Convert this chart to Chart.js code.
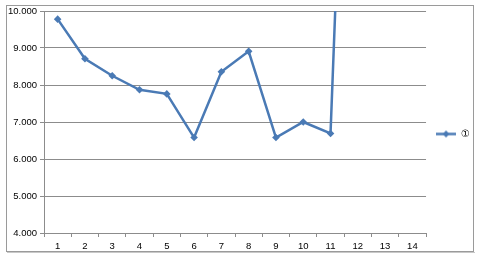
<!DOCTYPE html>
<html>
<head>
<meta charset="utf-8">
<script src="https://cdn.jsdelivr.net/npm/chart.js@4/dist/chart.umd.min.js"></script>
<style>
  html, body { margin: 0; padding: 0; background: #fff; }
  #wrap { width: 480px; height: 257px; }
</style>
</head>
<body>
<div id="wrap"><canvas id="plots" width="480" height="257"></canvas></div>
<script>
// chart values
var categories = ['1', '2', '3', '4', '5', '6', '7', '8', '9', '10', '11', '12', '13', '14'];
var seriesName = '①';
var seriesValues = [9.78, 8.71, 8.25, 7.87, 7.76, 6.58, 8.36, 8.91, 6.58, 7.0, 6.69, 26];
var yTicks = [4, 5, 6, 7, 8, 9, 10];

var blue = '#4a7ab5';
var grid = '#8c8c8c';
var font = { family: 'Liberation Sans', size: 9.5 };

// legend symbol: short line with a diamond in the middle
var sym = document.createElement('canvas');
sym.width = 20; sym.height = 9;
var sc = sym.getContext('2d');
sc.strokeStyle = blue; sc.lineWidth = 2.5;
sc.beginPath(); sc.moveTo(0, 4.5); sc.lineTo(20, 4.5); sc.stroke();
sc.fillStyle = blue;
sc.beginPath(); sc.moveTo(10, 1); sc.lineTo(13.5, 4.5); sc.lineTo(10, 8); sc.lineTo(6.5, 4.5); sc.closePath(); sc.fill();

var frame = {
  id: 'frame',
  beforeDraw: function (chart) {
    var c = chart.ctx;
    c.save();
    c.strokeStyle = '#9a9a9a';
    c.lineWidth = 1;
    c.strokeRect(6.5, 5.5, 467, 246);
    c.strokeStyle = '#c8c8c8';
    c.beginPath(); c.moveTo(7, 252.5); c.lineTo(475, 252.5); c.stroke();
    c.restore();
  }
};

var ctx = document.getElementById('plots').getContext('2d');
var myChart = new Chart(ctx, {
  type: 'line',
  data: {
    labels: categories,
    datasets: [{
      label: seriesName,
      data: seriesValues,
      borderColor: blue,
      backgroundColor: blue,
      borderWidth: 2.5,
      pointStyle: 'rectRot',
      pointRadius: 3.8,
      pointBorderWidth: 0,
      pointBackgroundColor: blue,
      tension: 0,
      clip: 0
    }]
  },
  plugins: [frame],
  options: {
    responsive: false,
    animation: false,
    layout: { padding: { top: 11, right: 0, bottom: 0, left: 0 } },
    plugins: {
      legend: {
        display: true,
        position: 'right',
        labels: {
          usePointStyle: true,
          pointStyle: sym,
          pointStyleWidth: 20,
          boxHeight: 9,
          padding: 10,
          color: '#000',
          font: { family: 'DejaVu Sans', size: 10 },
          generateLabels: function (chart) {
            return [{ text: seriesName, pointStyle: sym, fillStyle: blue, strokeStyle: blue, lineWidth: 0, datasetIndex: 0 }];
          }
        }
      },
      tooltip: { enabled: false }
    },
    scales: {
      x: {
        offset: true,
        grid: { display: true, drawOnChartArea: false, drawTicks: true, tickLength: 4, color: grid, offset: true },
        border: { color: grid, width: 1 },
        ticks: { color: '#000', font: font, padding: 4, maxRotation: 0, autoSkip: false },
        afterFit: function (s) { s.height = 24; }
      },
      y: {
        min: 4,
        max: 10,
        afterBuildTicks: function (s) { s.ticks = yTicks.map(function (v) { return { value: v }; }); },
        grid: { color: grid, lineWidth: 1, drawTicks: true, tickLength: 4 },
        border: { color: grid, width: 1 },
        ticks: {
          color: '#000', font: font, padding: 3,
          callback: function (v) { return v.toFixed(3); }
        },
        afterFit: function (s) { s.width = 44; }
      }
    }
  }
});
</script>
</body>
</html>
